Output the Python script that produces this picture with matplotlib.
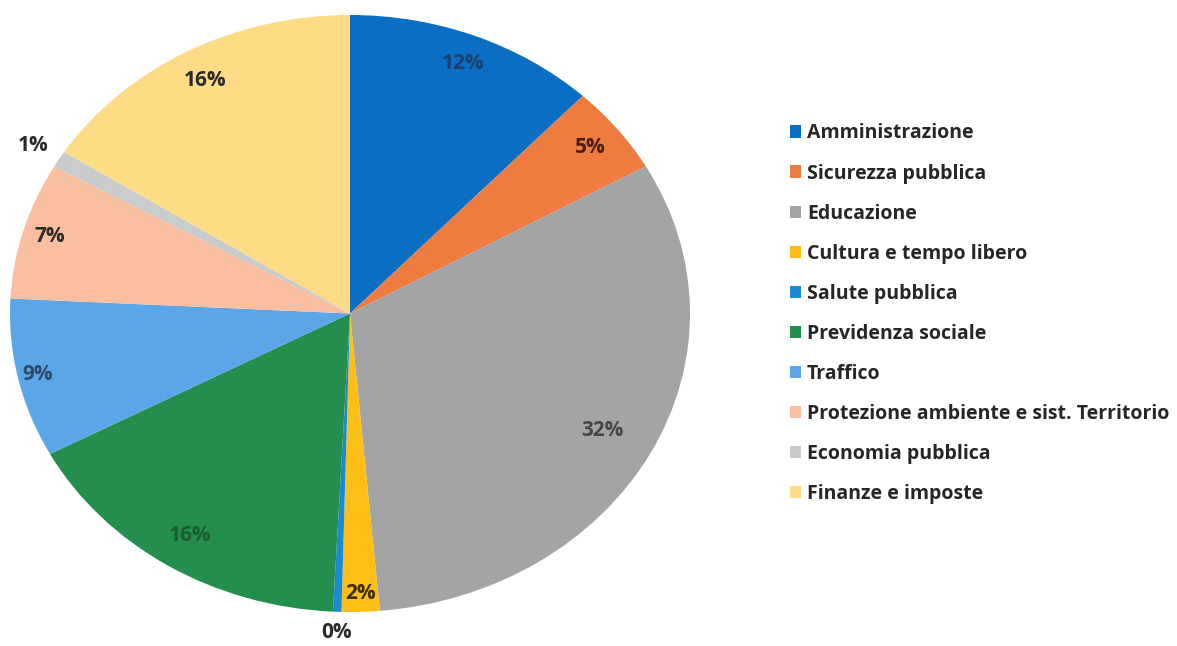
#!/usr/bin/env python3
# -*- coding: utf-8 -*-

import numpy as np
import matplotlib
matplotlib.use("Agg")
import matplotlib.pyplot as plt

# DATA ########################################################################

categories = ["Amministrazione", "Sicurezza pubblica", "Educazione",
              "Cultura e tempo libero", "Salute pubblica", "Previdenza sociale",
              "Traffico", "Protezione ambiente e sist. Territorio",
              "Economia pubblica", "Finanze e imposte"]
shares = [12.0, 4.8, 31.8, 1.8, 0.4, 16.4, 8.6, 7.4, 0.9, 15.9]

colors = ["#0A6FC2", "#EE7B3F", "#A3A4A6", "#FDBE16", "#1A8BD2",
          "#238E4D", "#5BA6E9", "#F9BFA0", "#C9CBCD", "#FEDC86"]
label_colors = ["#1C3F70", "#4A1E0E", "#474747", "#3A2E08", "#2A2A2A",
                "#1E5A33", "#2F4A66", "#2A2A2A", "#2A2A2A", "#2A2A2A"]
label_dist = [0.90, 0.90, 0.84, 0.94, 1.07, 0.88, 0.94, 0.92, 1.09, 0.89]


def main():
    plt.rcParams['font.family'] = ['Open Sans', 'DejaVu Sans']

    fig = plt.figure(figsize=(11.77, 6.46), dpi=100)
    W, H = 1177.0, 646.0
    # pie is an ellipse in the reference: 680 px wide, 597 px tall
    ax = fig.add_axes([10 / W, (H - 612) / H, 680 / W, 597 / H])

    wedges, _ = ax.pie(shares, colors=colors, startangle=90, counterclock=False,
                       wedgeprops=dict(linewidth=0))
    ax.set_aspect('auto')
    ax.set_xlim(-1, 1)
    ax.set_ylim(-1, 1)
    ax.axis('off')

    total = float(sum(shares))
    for w, s, r, c in zip(wedges, shares, label_dist, label_colors):
        ang = np.deg2rad((w.theta1 + w.theta2) / 2.0)
        ax.text(r * np.cos(ang), r * np.sin(ang), "{:.0f}%".format(100 * s / total),
                ha='center', va='center', fontsize=15, fontweight='bold', color=c)

    leg = fig.legend(wedges, categories, loc='upper left',
                     bbox_to_anchor=(772 / W, 1 - 106 / H), frameon=False,
                     fontsize=14, handlelength=0.6, handleheight=0.6,
                     handletextpad=0.3, labelspacing=1.03)
    for t in leg.get_texts():
        t.set_fontweight('bold')
        t.set_color('#262626')

    plt.savefig("out.png", dpi=100)


if __name__ == "__main__":
    main()
